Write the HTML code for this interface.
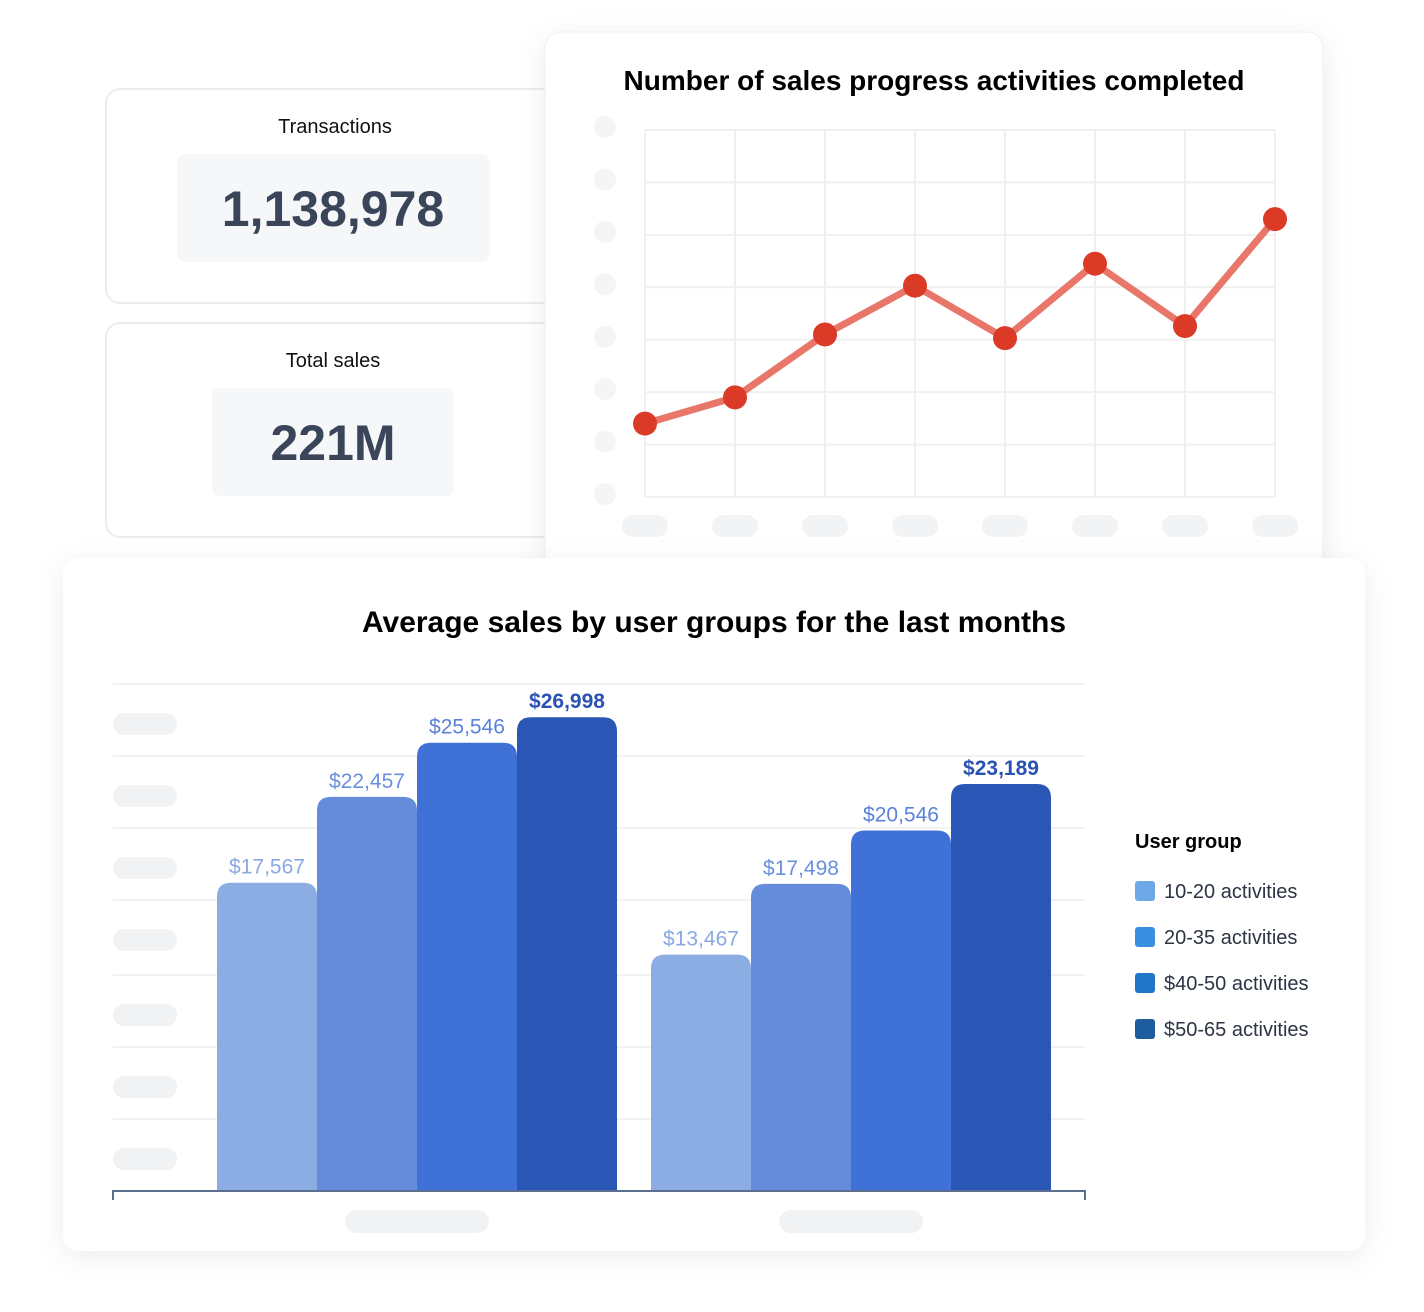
<!DOCTYPE html>
<html><head><meta charset="utf-8"><style>
body{margin:0;width:1424px;height:1312px;background:#fff;font-family:"Liberation Sans",sans-serif;overflow:hidden}
svg{display:block}
</style></head><body>
<svg width="1424" height="1312" xmlns="http://www.w3.org/2000/svg">
<defs>
<filter id="sh" x="-10%" y="-10%" width="120%" height="130%"><feDropShadow dx="0" dy="6" stdDeviation="14" flood-color="#000" flood-opacity="0.07"/></filter>
</defs>
<g>
<rect x="106" y="89" width="470" height="214" rx="14" fill="#fff" stroke="#ececee" stroke-width="2"/>
<text x="335" y="133" text-anchor="middle" font-size="20" fill="#111">Transactions</text>
<rect x="177" y="154" width="313" height="108" rx="8" fill="#f6f7f9"/>
<text x="333" y="226" text-anchor="middle" font-size="50" font-weight="bold" fill="#3a4559">1,138,978</text>
</g>
<g>
<rect x="106" y="323" width="470" height="214" rx="14" fill="#fff" stroke="#ececee" stroke-width="2"/>
<text x="333" y="367" text-anchor="middle" font-size="20" fill="#111">Total sales</text>
<rect x="212" y="388" width="242" height="108" rx="8" fill="#f6f7f9"/>
<text x="333" y="460" text-anchor="middle" font-size="50" font-weight="bold" fill="#3a4559">221M</text>
</g>
<g>
<rect x="545" y="32" width="778" height="560" rx="16" fill="#fff" filter="url(#sh)" stroke="#f0f0f2"/>
<text x="934" y="90" text-anchor="middle" font-size="28" font-weight="bold" fill="#000">Number of sales progress activities completed</text>
<g id="lineChart"></g>
</g>
<g>
<rect x="63" y="558" width="1302" height="693" rx="16" fill="#fff" filter="url(#sh)"/>
<text x="714" y="632" text-anchor="middle" font-size="30" font-weight="bold" fill="#000">Average sales by user groups for the last months</text>
<g id="barChart"></g>
<g>
<text x="1135" y="848" font-size="20" font-weight="bold" fill="#000">User group</text>
<g id="legend"></g>
</g>
</g>
</svg>
<script>
const lineValues=[1.4,1.9,3.1,4.03,3.03,4.45,3.26,5.3];
const lineYTicks=[0,1,2,3,4,5,6,7];
const barCategories=["Group A","Group B"];
const seriesNames=["10-20 activities","20-35 activities","$40-50 activities","$50-65 activities"];
const series1=[17567,13467];
const series2=[22457,17498];
const series3=[25546,20546];
const series4=[26998,23189];
const NS="http://www.w3.org/2000/svg";
function mk(p,t,a){const e=document.createElementNS(NS,t);for(const k in a)e.setAttribute(k,a[k]);p.appendChild(e);return e;}
// line chart
const lc=document.getElementById('lineChart');
const lx=i=>645+i*(630/(lineValues.length-1));
const ly=v=>497-v*(367/7);
lineYTicks.forEach(t=>{const g=mk(lc,'line',{x1:645,x2:1275,y1:ly(t),y2:ly(t),stroke:'#f0f0f0','stroke-width':2});


const p=mk(lc,'ellipse',{cx:605,cy:ly(t)-3,rx:11,ry:11,fill:'#f4f5f7'});

});
lineValues.forEach((v,i)=>{const g=mk(lc,'line',{x1:lx(i),x2:lx(i),y1:130,y2:497,stroke:'#f0f0f0','stroke-width':2});


const p=mk(lc,'rect',{x:lx(i)-23,y:515,width:46,height:22,rx:11,fill:'#f2f3f5'});

});
const path=mk(lc,'polyline',{points:lineValues.map((v,i)=>lx(i)+','+ly(v)).join(' '),fill:'none',stroke:'#e8776a','stroke-width':7,'stroke-linejoin':'round'});


lineValues.forEach((v,i)=>{const c=mk(lc,'circle',{cx:lx(i),cy:ly(v),r:12,fill:'#db3a26'});

});
// bar chart
const bc=document.getElementById('barChart');
const base=1191, scale=481/26998*0.985;
const by=v=>base-v*scale;
[684,756,828,900,975,1047,1119].forEach((y,i)=>{const g=mk(bc,'line',{x1:113,x2:1085,y1:y,y2:y,stroke:'#f2f2f4','stroke-width':2});


const p=mk(bc,'rect',{x:113,y:y+29,width:64,height:22,rx:11,fill:'#f1f2f4'});

});
const allSeries=[series1,series2,series3,series4];
const colors=['#8badE3','#658bdb','#4071d6','#2a57b6'];
const labelColors=['#8aa8e3','#6a8fdd','#5a82d8','#2a52b3'];
const groupX=[217,651];
barCategories.forEach((c,gi)=>{allSeries.forEach((s,si)=>{const v=s[gi];const x=groupX[gi]+si*100;const y=by(v);const h=base-y;
const r=mk(bc,'path',{d:`M${x},${base}V${y+14}Q${x},${y} ${x+14},${y}H${x+86}Q${x+100},${y} ${x+100},${y+14}V${base}Z`,fill:colors[si]});


const t=mk(bc,'text',{x:x+50,y:y-9,'text-anchor':'middle','font-size':21,fill:labelColors[si],'font-weight':si==3?'bold':'normal'});t.textContent='$'+v.toLocaleString('en-US');

});
const p=mk(bc,'rect',{x:groupX[gi]+128,y:1210,width:144,height:23,rx:11.5,fill:'#f1f2f4'});

});
const ax=mk(bc,'path',{d:'M113,1200V1191H1085V1200',fill:'none',stroke:'#5d6f8f','stroke-width':2});


const lg=document.getElementById('legend');
const legColors=['#6fa8e6','#3b8fe0','#2175c8','#1d5c9d'];
seriesNames.forEach((n,i)=>{const y=891+i*46;
const s=mk(lg,'rect',{x:1135,y:y-10,width:20,height:20,rx:3,fill:legColors[i]});


const t=mk(lg,'text',{x:1164,y:y+7,'font-size':20,fill:'#2c3444'});t.textContent=n;

});
</script>
</body></html>
